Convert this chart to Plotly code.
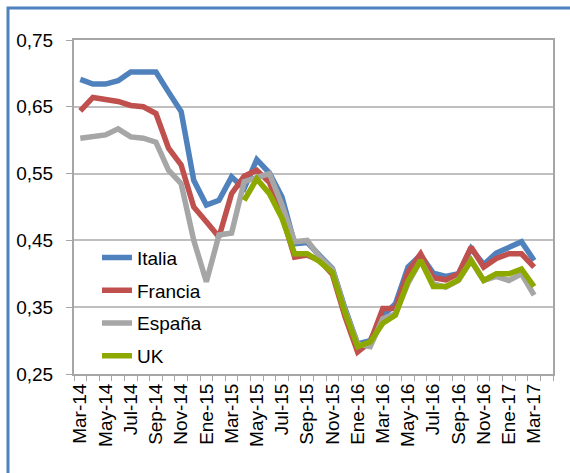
import plotly.graph_objects as go

months = ["Mar-14","Abr-14","May-14","Jun-14","Jul-14","Ago-14","Sep-14","Oct-14","Nov-14","Dic-14",
          "Ene-15","Feb-15","Mar-15","Abr-15","May-15","Jun-15","Jul-15","Ago-15","Sep-15","Oct-15",
          "Nov-15","Dic-15","Ene-16","Feb-16","Mar-16","Abr-16","May-16","Jun-16","Jul-16","Ago-16",
          "Sep-16","Oct-16","Nov-16","Dic-16","Ene-17","Feb-17","Mar-17"]

italia = [0.691,0.684,0.684,0.689,0.702,0.702,0.702,0.672,0.643,0.540,
          0.503,0.510,0.545,0.528,0.571,0.551,0.515,0.445,0.447,0.427,
          0.408,0.348,0.295,0.300,0.337,0.355,0.410,0.428,0.401,0.396,
          0.400,0.438,0.414,0.431,0.440,0.448,0.420]
francia = [0.644,0.664,0.661,0.658,0.652,0.650,0.640,0.588,0.563,0.500,
           0.478,0.455,0.520,0.546,0.555,0.537,0.488,0.425,0.428,0.420,
           0.399,0.336,0.283,0.298,0.348,0.348,0.403,0.430,0.394,0.391,
           0.400,0.440,0.410,0.423,0.430,0.430,0.410]
espana = [0.603,0.605,0.608,0.617,0.605,0.603,0.597,0.555,0.535,0.450,
          0.388,0.458,0.461,0.538,0.543,0.550,0.503,0.448,0.450,0.425,
          0.407,0.345,0.295,0.291,0.333,0.340,0.386,0.420,0.385,0.380,
          0.390,0.420,0.390,0.396,0.390,0.400,0.368]
uk = [None]*13 + [0.510,0.542,0.520,0.483,0.430,0.430,0.418,
                  0.402,0.342,0.291,0.298,0.326,0.338,0.389,0.420,0.381,0.381,
                  0.391,0.420,0.390,0.400,0.400,0.407,0.381]

series = [("Italia", italia, "#4F81BD"),
          ("Francia", francia, "#C0504D"),
          ("España", espana, "#A6A6A6"),
          ("UK", uk, "#8DA900")]

y_ticks = [0.25, 0.35, 0.45, 0.55, 0.65, 0.75]

x = list(range(len(months)))
ticktext = [m if i % 2 == 0 else "" for i, m in enumerate(months)]

fig = go.Figure()
for name, vals, color in series:
    fig.add_trace(go.Scatter(x=x, y=vals, name=name, mode="lines",
                             line=dict(color=color, width=5.5),
                             legendgroup=name, connectgaps=False))

font_family = "Liberation Sans, Arial, sans-serif"
fig.update_layout(
    width=570, height=473,
    margin=dict(l=74, r=17, t=40, b=99),
    paper_bgcolor="white", plot_bgcolor="white",
    separators=",.",
    font=dict(family=font_family, color="black"),
    showlegend=True,
    legend=dict(x=0.048, y=0.405, xanchor="left", yanchor="top",
                bgcolor="rgba(0,0,0,0)", font=dict(size=19, family=font_family),
                tracegroupgap=5, itemwidth=30),
    xaxis=dict(range=[-0.5, 37.5], tickmode="array", tickvals=x, ticktext=ticktext,
               tickangle=-90, tickfont=dict(size=19), ticks="", showgrid=False,
               showline=True, linecolor="#A6A6A6", linewidth=2, mirror=True,
               zeroline=False,
               minor=dict(tickmode="linear", tick0=-0.5, dtick=1, ticks="outside",
                          ticklen=5, tickcolor="#A6A6A6", tickwidth=1, showgrid=False)),
    yaxis=dict(range=[0.25, 0.75], tickmode="array", tickvals=y_ticks, tickformat=".2f",
               tickfont=dict(size=19), ticks="outside", ticklen=6, tickcolor="#A6A6A6",
               ticklabelstandoff=9,
               showgrid=True, gridcolor="#BFBFBF", gridwidth=1.5,
               showline=True, linecolor="#A6A6A6", linewidth=2, mirror=True,
               zeroline=False),
    shapes=[dict(type="rect", xref="paper", yref="paper",
                 x0=-0.1378, x1=1.2, y0=-0.5, y1=1.0958,
                 line=dict(color="#4F81BD", width=3), fillcolor="rgba(0,0,0,0)",
                 layer="above")],
)

fig.write_html("out.html", config={"displayModeBar": False},
               post_script="document.body.style.margin='0px';")
